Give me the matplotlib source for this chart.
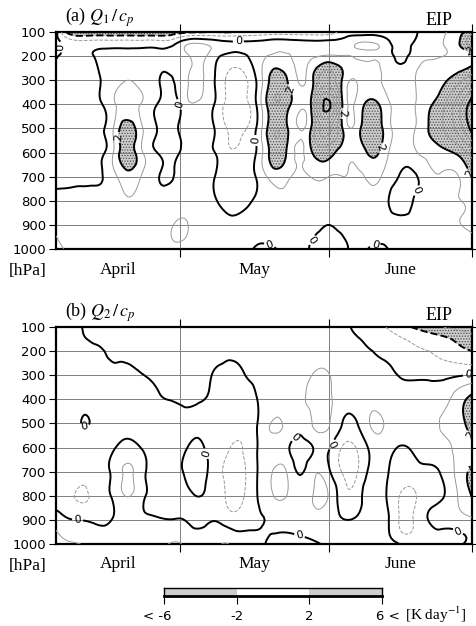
import numpy as np
import matplotlib.pyplot as plt
import matplotlib.tri as mtri

plt.rcParams['font.family'] = ['DejaVu Sans']
plt.rcParams['mathtext.fontset'] = 'stix'
plt.rcParams['hatch.color'] = '0.3'
plt.rcParams['hatch.linewidth'] = 0.6

# time axis: day of year, 5 Apr .. 1 Jul, every 3 days
days = list(range(95, 183, 3))
plev = [100, 150, 200, 300, 400, 500, 600, 700, 800, 900, 1000]

# Q1/cp [K/day]; one profile (100 ... 1000 hPa) per day
q1_profiles = [
    [0.4, 0.4, 0.1, -0.3, -0.3, -0.3, -0.3, -0.2, 0.3, 0.8, 1.3],
    [-2.6, -0.5, -0.4, -0.4, -0.4, -0.4, -0.4, -0.2, 0.3, 0.5, 0.8],
    [-2.7, -0.5, -0.3, -0.35, -0.4, -0.4, -0.35, -0.15, 0.3, 0.5, 0.6],
    [-2.7, -0.4, 0.15, -0.05, -0.15, -0.2, -0.2, -0.1, 0.3, 0.5, 0.5],
    [-2.8, -0.4, 0.3, 0.5, 0.8, 1.0, 1.0, 0.7, 0.5, 0.5, 0.5],
    [-2.8, -0.4, 0.4, 1.0, 1.5, 2.6, 2.6, 1.6, 0.9, 0.6, 0.5],
    [-2.8, -0.4, 0.4, 0.6, 0.9, 1.1, 1.1, 0.9, 0.6, 0.5, 0.5],
    [-2.8, -0.4, 0.3, 0.1, 0.05, 0.05, 0.05, 0.1, 0.3, 0.5, 0.6],
    [-2.6, -0.3, 0.3, -0.1, -0.6, -0.6, -0.6, -0.1, 0.3, 0.9, 0.7],
    [-2.2, 0.8, 0.7, 0.8, 0.6, 0.5, 0.5, 0.5, 0.5, 1.1, 0.6],
    [-2.1, 1.1, 1.3, 1.2, 0.8, 0.6, 0.5, 0.5, 0.5, 0.5, 0.4],
    [-2.0, 0.7, 0.4, 0.1, 0.05, 0.05, 0.05, 0.05, 0.1, 0.3, 0.4],
    [-2.1, 0.3, -0.3, -1.2, -1.3, -1.1, -0.8, -0.5, -0.3, 0.2, 0.3],
    [-1.9, 0.3, -0.3, -1.3, -1.4, -1.2, -0.8, -0.6, -0.3, 0.2, 0.3],
    [-1.8, 0.4, 0.6, 0.1, 0.1, 0.1, 0.1, 0.1, 0.2, 0.3, -0.1],
    [-1.6, 0.6, 1.1, 2.3, 2.6, 2.6, 2.3, 1.3, 0.7, 0.4, -0.1],
    [-1.6, 0.6, 1.1, 2.2, 2.5, 2.3, 2.1, 1.3, 0.7, 0.4, 0.2],
    [-1.6, 0.5, 0.7, 0.9, 1.3, 0.95, 0.8, 0.8, 0.5, 0.3, 0.3],
    [-1.6, 0.4, 0.9, 2.2, 3.0, 2.8, 2.2, 1.1, 0.5, 0.2, -0.2],
    [-1.6, 0.4, 1.2, 3.6, 6.3, 4.2, 2.4, 1.0, 0.4, 0.0, -0.6],
    [-0.6, 0.5, 1.1, 1.8, 1.85, 1.9, 1.5, 1.0, 0.5, 0.2, -0.2],
    [-0.6, 1.05, 0.9, 1.1, 1.3, 1.5, 1.3, 0.8, 0.4, 0.3, 0.2],
    [-0.5, 1.1, 0.9, 1.2, 2.3, 2.7, 2.2, 1.2, 0.6, 0.3, -0.05],
    [-0.5, 0.5, 0.6, 0.8, 1.4, 1.6, 1.3, 0.7, 0.2, 0.3, -0.05],
    [-0.8, -0.5, -0.3, 0.3, 0.5, 0.5, 0.4, -0.1, -0.5, 0.2, 0.4],
    [-0.2, 0.2, 0.5, 0.95, 0.95, 0.95, 0.9, -0.15, 0.1, 0.4, 0.5],
    [0.5, 0.8, 0.9, 1.3, 1.8, 2.05, 1.3, 0.7, 0.6, 0.6, 0.6],
    [0.9, 1.0, 1.0, 1.8, 2.8, 3.0, 1.7, 0.9, 0.8, 0.7, 0.6],
    [1.5, 1.8, 1.3, 2.6, 4.5, 4.3, 2.2, 0.95, 0.95, 0.95, 0.7],
    [2.5, 3.8, 1.6, 3.8, 6.6, 6.4, 3.5, 2.1, 1.2, 1.1, 0.8],
]

# Q2/cp [K/day]
q2_profiles = [
    [-0.3, -0.35, -0.4, -0.45, -0.5, -0.5, -0.5, -0.55, -0.6, 0.6, 1.3],
    [-0.2, -0.3, -0.35, -0.4, -0.45, -0.4, -0.5, -0.6, -0.9, 0.05, 1.1],
    [0.05, -0.05, -0.2, -0.35, -0.4, 0.05, -0.5, -0.6, -1.1, -0.05, 0.95],
    [0.2, 0.2, -0.1, -0.3, -0.35, -0.3, -0.4, -0.5, -0.6, -0.2, 0.7],
    [0.3, 0.3, 0.15, -0.2, -0.3, -0.3, -0.1, 0.3, 0.2, 0.05, 0.5],
    [0.3, 0.35, 0.15, -0.15, -0.3, -0.3, 0.3, 1.15, 1.05, 0.4, 0.6],
    [0.35, 0.4, 0.35, -0.03, -0.3, -0.3, -0.05, 0.3, 0.25, 0.2, 0.7],
    [0.35, 0.4, 0.4, 0.15, -0.1, -0.4, -0.5, -0.4, -0.3, 0.1, 0.8],
    [0.35, 0.4, 0.4, 0.3, 0.02, -0.4, -0.5, -0.5, -0.3, 0.02, 1.05],
    [0.35, 0.4, 0.4, 0.35, 0.1, -0.15, -0.1, 0.15, -0.2, -0.02, 0.9],
    [0.35, 0.4, 0.4, 0.25, 0.05, -0.2, 0.15, 0.5, 0.02, -0.3, 0.6],
    [0.35, 0.4, 0.35, -0.05, -0.15, -0.35, -0.5, -0.5, -0.4, -0.05, 0.8],
    [0.35, 0.35, 0.15, -0.2, -0.4, -0.7, -0.95, -1.2, -1.15, -0.5, 1.02],
    [0.35, 0.35, 0.2, -0.05, -0.4, -0.7, -1.0, -1.2, -1.1, -0.5, 0.4],
    [0.35, 0.35, 0.3, 0.15, -0.02, -0.05, -0.05, -0.05, -0.05, -0.15, 0.15],
    [0.35, 0.35, 0.35, 0.4, 0.5, 1.03, 0.5, 0.9, 0.9, 0.1, -0.1],
    [0.35, 0.35, 0.35, 0.45, 0.6, 0.8, 0.2, 1.1, 1.05, 0.2, -0.25],
    [0.3, 0.3, 0.35, 0.5, 0.8, 0.3, -0.4, -0.1, 0.4, 0.25, -0.25],
    [0.3, 0.3, 0.4, 1.1, 1.3, 1.15, 0.05, 0.8, 1.1, 0.6, -0.1],
    [0.25, 0.25, 0.4, 1.05, 1.2, 1.1, 0.1, 0.2, 0.95, 0.4, 0.1],
    [0.2, 0.2, 0.35, 0.6, 0.5, -0.05, -1.1, -1.1, -0.6, 0.05, 0.3],
    [-0.2, 0.05, 0.25, 0.5, 0.45, -0.02, -0.9, -1.05, -0.5, 0.1, 0.3],
    [-0.6, -0.2, 0.02, 0.4, 0.6, 1.1, 0.3, 0.3, 0.8, 0.6, 0.5],
    [-1.0, -0.5, -0.2, 0.25, 0.5, 0.9, 0.4, 0.15, 0.05, 0.3, 0.4],
    [-1.7, -0.9, -0.5, -0.05, 0.4, 0.5, -0.05, -0.5, -1.05, -1.1, -0.05],
    [-2.1, -1.2, -0.8, -0.15, 0.5, 0.7, 0.2, -0.4, -1.1, -0.9, -0.5],
    [-2.6, -1.5, -1.0, -0.2, 0.6, 0.8, 0.6, -0.2, -0.4, 0.05, -0.3],
    [-3.0, -1.8, -1.3, -0.25, 0.7, 1.1, 0.8, 0.2, -0.05, 0.3, -0.1],
    [-3.3, -2.2, -1.6, -0.1, 1.5, 1.6, 1.2, 1.3, 1.0, 0.5, -0.1],
    [-3.6, -2.7, -2.0, 0.1, 2.3, 2.4, 1.8, 2.2, 2.05, 0.8, 0.2],
]

month_edges = [121, 152, 182]
month_mid = [108, 136.5, 167]
month_names = ['April', 'May', 'June']
plev_ticks = list(range(100, 1001, 100))

shade_levels = [-100, -2, 2, 100]
thin_levels = [-5, -4, -3, -1, 1, 3, 4, 5]
thick_levels = [-6, -2, 0, 2, 6]
cbar_bounds = [-6, -2, 2, 6]

shade = '#cdcdcd'
stip = '......'
serif = 'Liberation Serif'


def smooth_tri(profiles):
    # triangulate in grid-index space, let matplotlib refine for smooth lines
    z = np.array(profiles).T
    ix, iy = np.meshgrid(np.arange(len(days)), np.arange(len(plev)))
    tri = mtri.Triangulation(ix.ravel().astype(float), iy.ravel().astype(float))
    tri_r, z_r = mtri.UniformTriRefiner(tri).refine_field(z.ravel(), subdiv=3)
    x_r = np.interp(tri_r.x, np.arange(len(days)), days)
    y_r = np.interp(tri_r.y, np.arange(len(plev)), plev)
    return mtri.Triangulation(x_r, y_r, tri_r.triangles), z_r


def draw_panel(ax, profiles, title):
    tri, z = smooth_tri(profiles)
    ax.tricontourf(tri, z, levels=shade_levels,
                   colors=[shade, 'none', shade], hatches=[stip, None, stip],
                   zorder=1)
    ax.tricontour(tri, z, levels=thin_levels, colors='0.6',
                  linewidths=0.7, zorder=3)
    cs = ax.tricontour(tri, z, levels=thick_levels, colors='k',
                       linewidths=1.4, zorder=4)
    ax.clabel(cs, levels=[0, 2], fmt='%d', fontsize=8, inline=True,
              inline_spacing=2)

    ax.set_xlim(days[0], days[-1])
    ax.set_ylim(1000, 100)
    ax.set_yticks(plev_ticks)
    ax.set_xticks(month_edges)
    ax.set_xticklabels([])
    ax.set_xticks(month_mid, minor=True)
    ax.set_xticklabels(month_names, minor=True, fontfamily=serif, fontsize=12.5)
    ax.tick_params(axis='x', which='major', top=True, direction='out',
                   length=6, width=0.8)
    ax.tick_params(axis='x', which='minor', length=0, pad=9)
    ax.tick_params(axis='y', direction='out', length=5, width=0.8,
                   labelsize=9.5, right=True, pad=2)
    ax.grid(True, color='0.5', linewidth=0.7)
    ax.set_axisbelow('line')
    for s in ax.spines.values():
        s.set_linewidth(1.6)
    ax.text(-0.068, -0.1, '[hPa]', transform=ax.transAxes, ha='center',
            va='center', fontfamily=serif, fontsize=12.5)
    ax.text(0.022, 1.012, title, transform=ax.transAxes, ha='left',
            va='bottom', fontfamily=serif, fontsize=13)
    ax.text(0.952, 1.012, 'EIP', transform=ax.transAxes, ha='right',
            va='bottom', fontfamily=serif, fontsize=13)


fig = plt.figure(figsize=(4.77, 6.26), dpi=100)
ax1 = fig.add_axes([0.1174, 0.6022, 0.8721, 0.3467])
ax2 = fig.add_axes([0.1174, 0.1310, 0.8721, 0.3466])
draw_panel(ax1, q1_profiles, r'(a) $Q_1\,/\,c_p$')
draw_panel(ax2, q2_profiles, r'(b) $Q_2\,/\,c_p$')

# shading key
cax = fig.add_axes([0.3438, 0.0479, 0.457, 0.0128])
cax.bar(cbar_bounds[:-1], 1, width=np.diff(cbar_bounds), align='edge',
        color=[shade, 'white', shade], hatch=[stip, '', stip],
        edgecolor='none')
cax.set_xlim(cbar_bounds[0], cbar_bounds[-1])
cax.set_ylim(0, 1)
cax.set_yticks([])
cax.set_xticks(cbar_bounds)
cax.set_xticklabels([])
cax.tick_params(axis='x', direction='out', length=6, width=0.8)
for s in cax.spines.values():
    s.set_linewidth(1.0)
cax.spines['bottom'].set_linewidth(2.0)

key_labels = ['< -6', '-2', '2', '6 <']
key_shift = [-4.5, 0, 0, 4.5]
for v, lab, dx in zip(cbar_bounds, key_labels, key_shift):
    cax.annotate(lab, xy=(v, 0), xycoords=('data', 'axes fraction'),
                 xytext=(dx, -17), textcoords='offset points', ha='center',
                 va='baseline', fontsize=9.5)
cax.annotate(r'[K day$^{-1}$]', xy=(cbar_bounds[-1], 0),
             xycoords=('data', 'axes fraction'), xytext=(16.5, -17),
             textcoords='offset points', ha='left', va='baseline',
             fontfamily=serif, fontsize=11)

fig.savefig('out.png', dpi=100)
